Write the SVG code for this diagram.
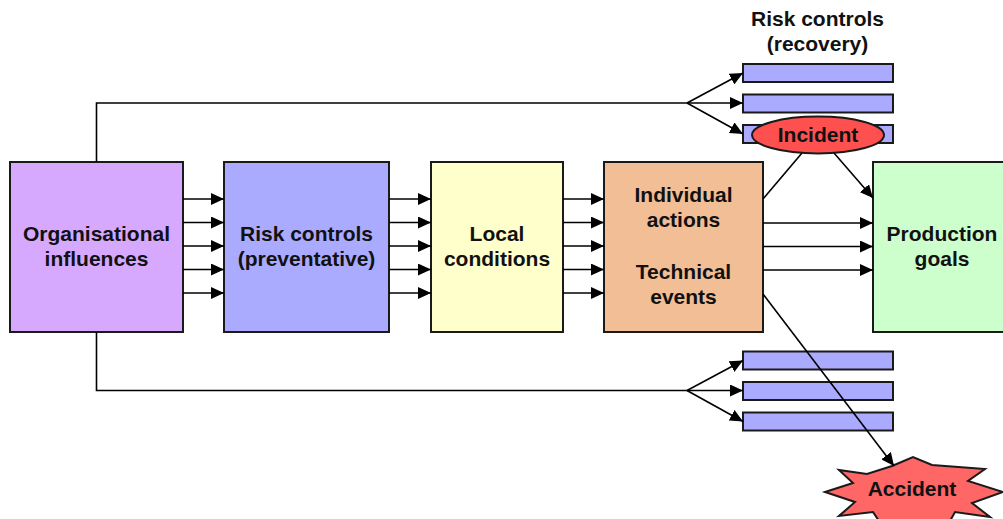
<svg xmlns="http://www.w3.org/2000/svg" width="1003" height="519" viewBox="0 0 1003 519">
<style>
.box{stroke:#1a1a1a;stroke-width:2}
.bar{fill:#AAAAFF;stroke:#1a1a1a;stroke-width:2}
.t{font-family:"Liberation Sans",Arial,sans-serif;font-weight:bold;font-size:21px;fill:#111;text-anchor:middle}
.c{fill:none;stroke:#000;stroke-width:1.6}
.a{marker-end:url(#ah)}
</style>
<defs>
<marker id="ah" markerUnits="userSpaceOnUse" markerWidth="14" markerHeight="12" refX="13" refY="6" orient="auto">
<path d="M0,0 L13,6 L0,12 Z" fill="#000"/>
</marker>
</defs>
<rect width="1003" height="519" fill="#fff"/>
<g id="org">
<rect class="box" x="10" y="162" width="173" height="170" fill="#D6A9FF"/>
<text class="t" x="96.5" y="241">Organisational</text>
<text class="t" x="96.5" y="266">influences</text>
</g>
<g id="prev">
<rect class="box" x="224" y="162" width="165" height="170" fill="#AAAAFF"/>
<text class="t" x="306.5" y="241">Risk controls</text>
<text class="t" x="306.5" y="266">(preventative)</text>
</g>
<g id="local">
<rect class="box" x="431" y="162" width="132" height="170" fill="#FFFFCC"/>
<text class="t" x="497" y="241">Local</text>
<text class="t" x="497" y="266">conditions</text>
</g>
<g id="indiv">
<rect class="box" x="604" y="162" width="159" height="170" fill="#F2BE96"/>
<text class="t" x="683.5" y="202">Individual</text>
<text class="t" x="683.5" y="227">actions</text>
<text class="t" x="683.5" y="279">Technical</text>
<text class="t" x="683.5" y="304">events</text>
</g>
<g id="prod">
<rect class="box" x="873" y="162" width="140" height="170" fill="#CCFFCC"/>
<text class="t" x="942" y="241">Production</text>
<text class="t" x="942" y="266">goals</text>
</g>
<g id="recovery-top">
<text class="t" x="817.5" y="26">Risk controls</text>
<text class="t" x="817.5" y="51">(recovery)</text>
<rect class="bar" x="743" y="64" width="150" height="18"/>
<rect class="bar" x="743" y="94.5" width="150" height="18"/>
<rect class="bar" x="743" y="125" width="150" height="18"/>
</g>
<g id="recovery-bottom">
<rect class="bar" x="743" y="351.5" width="150" height="18"/>
<rect class="bar" x="743" y="382" width="150" height="18"/>
<rect class="bar" x="743" y="412.5" width="150" height="18"/>
</g>
<g id="incident">
<ellipse cx="818" cy="135" rx="66" ry="18.5" fill="#FF5050" stroke="#1a1a1a" stroke-width="2"/>
<text class="t" x="818" y="142">Incident</text>
</g>
<g id="accident">
<polygon points="825,492 853,483 839,470 867,474 892,466 913,457 932,465 985,469 968,481 1003,492 972,503 990,517 955,512 945,530 913,520 885,530 873,512 839,516 855,502" fill="#FF6666" stroke="#1a1a1a" stroke-width="2"/>
<text class="t" x="912" y="496">Accident</text>
</g>
<g id="connectors">
<path class="c a" d="M183,199 H224"/>
<path class="c a" d="M183,222.5 H224"/>
<path class="c a" d="M183,246 H224"/>
<path class="c a" d="M183,269.5 H224"/>
<path class="c a" d="M183,293 H224"/>
<path class="c a" d="M389,199 H431"/>
<path class="c a" d="M389,222.5 H431"/>
<path class="c a" d="M389,246 H431"/>
<path class="c a" d="M389,269.5 H431"/>
<path class="c a" d="M389,293 H431"/>
<path class="c a" d="M563,199 H604"/>
<path class="c a" d="M563,222.5 H604"/>
<path class="c a" d="M563,246 H604"/>
<path class="c a" d="M563,269.5 H604"/>
<path class="c a" d="M563,293 H604"/>
<path class="c a" d="M763,223 H873"/>
<path class="c a" d="M763,246.5 H873"/>
<path class="c a" d="M763,270 H873"/>
<path class="c" d="M96.5,162 V103 H687"/>
<path class="c a" d="M687,103 L743,73"/>
<path class="c a" d="M687,103 H743"/>
<path class="c a" d="M687,103 L743,134"/>
<path class="c" d="M96.5,332 V390.5 H687"/>
<path class="c a" d="M687,390.5 L743,360.5"/>
<path class="c a" d="M687,390.5 H743"/>
<path class="c a" d="M687,390.5 L743,421.5"/>
<path class="c" d="M763,199 L802,153"/>
<path class="c a" d="M834,153 L873,198"/>
<path class="c a" d="M763,294 L894,466"/>
</g>
</svg>
